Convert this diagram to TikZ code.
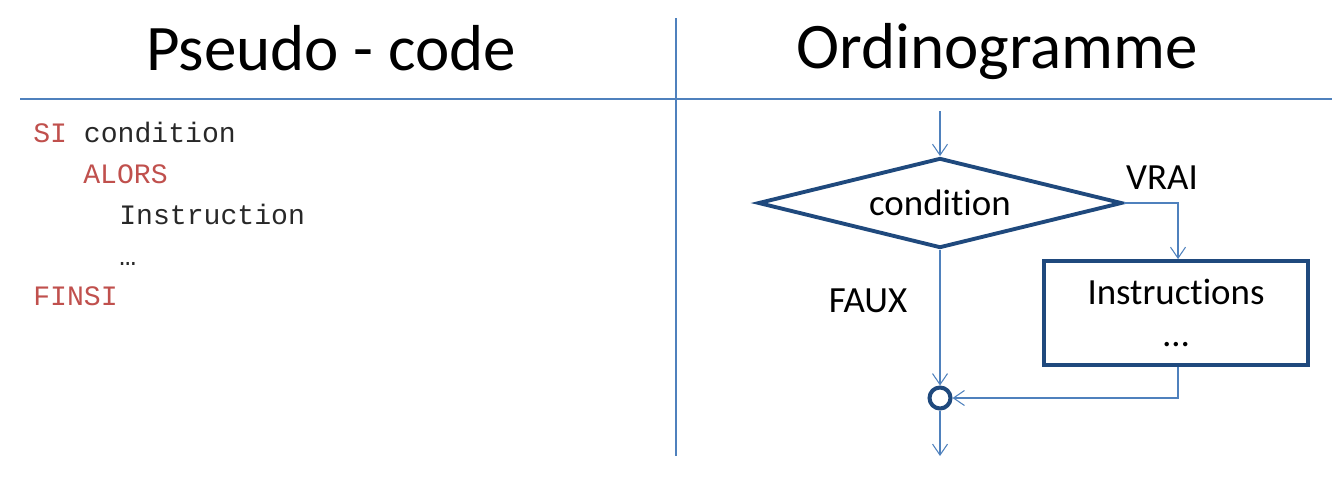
\documentclass[tikz,border=0pt]{standalone}
\usepackage{fontspec}
\setmainfont[Ligatures=NoCommon]{Carlito}
\newfontfamily\codefont{Liberation Mono}
\usetikzlibrary{shapes.geometric,arrows.meta}
\definecolor{keyred}{RGB}{192,80,77}
\definecolor{darkblue}{RGB}{31,73,125}
\definecolor{lineblue}{RGB}{79,129,189}
\definecolor{codegray}{RGB}{40,40,40}
\tikzset{
  heading/.style={font=\fontsize{37}{40}\selectfont},
  code/.style={anchor=base west, inner sep=0pt, text=codegray, font=\codefont\fontsize{16}{18}\selectfont},
  tag/.style={font=\fontsize{21}{24}\selectfont},
  flow/.style={draw=lineblue, line width=0.6pt, -{Straight Barb[length=2.2mm,width=3mm]}},
  test/.style={draw=darkblue, line width=2.2pt, shape=diamond, aspect=4.07, minimum width=7.28cm, minimum height=1.8cm, inner sep=0pt, font=\fontsize{21}{24}\selectfont},
  block/.style={draw=darkblue, line width=2.2pt, rectangle, minimum width=5.28cm, minimum height=2.08cm, align=center, font=\fontsize{21}{24}\selectfont},
  merge/.style={draw=darkblue, line width=2.3pt, circle, minimum size=0.42cm, inner sep=0pt}
}
\begin{document}
\begin{tikzpicture}[x=0.02cm, y=-0.02cm]
\useasboundingbox (0,0) rectangle (1341,488);
% headers
\node[heading] (ps) at (331,48) {Pseudo - code};
\node[heading] (og) at (997,52) {Ordinogramme};
\draw[lineblue, line width=0.6pt] (20,99) -- (1332,99);
\draw[lineblue, line width=0.6pt] (676,18) -- (676,456);
% pseudo-code
\node[code] (si) at (33,142) {\textcolor{keyred}{SI} condition};
\node[code, text=keyred] (alors) at (83,183) {ALORS};
\node[code] (instr) at (119,224) {Instruction};
\node[code] (dots) at (119,265) {…};
\node[code, text=keyred] (finsi) at (33,305) {FINSI};
% flowchart
\coordinate (in) at (940,111);
\node[test] (cond) at (940,203) {condition};
\node[block] (instrs) at (1176,313) {Instructions\\…};
\node[merge] (fin) at (940,398) {};
\coordinate (out) at (940,456);
\coordinate (vr) at (1178,203);
\coordinate (bk) at (1178,398);
\node[tag] (vrai) at (1162,178) {VRAI};
\node[tag] (faux) at (868,301) {FAUX};
\draw[flow] (in) -- (cond.north);
\draw[flow] (cond.east) -- (vr) -- (vr |- instrs.north);
\draw[flow] (cond.south) -- (fin.north);
\draw[flow] (bk |- instrs.south) -- (bk) -- (fin.east);
\draw[flow] (fin.south) -- (out);
\end{tikzpicture}
\end{document}
